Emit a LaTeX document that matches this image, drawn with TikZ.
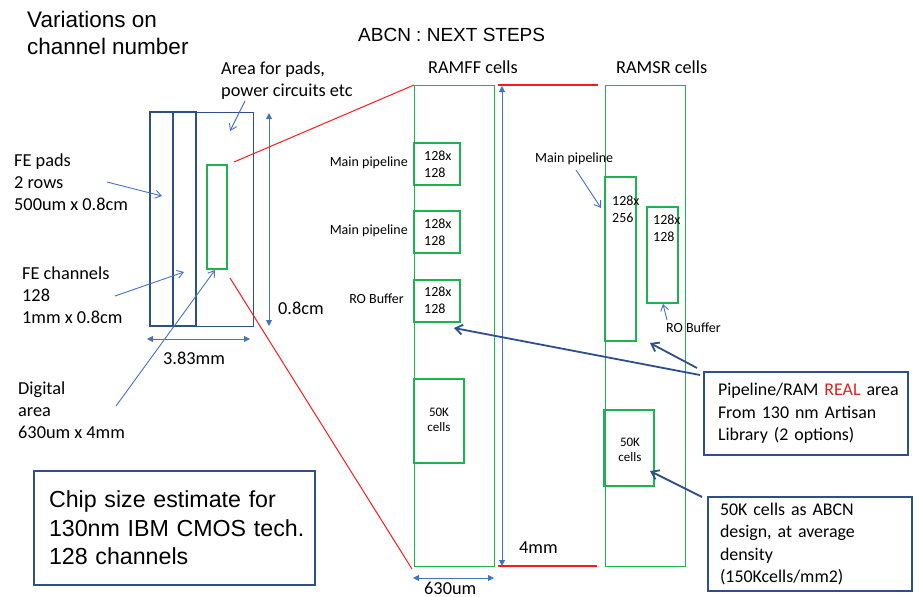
\documentclass[tikz,border=0pt]{standalone}
\usepackage{fontspec}
\setmainfont{Carlito}
\newfontfamily\arialf{Liberation Sans}
\usetikzlibrary{arrows.meta}
\definecolor{dkblue}{HTML}{2F4F8C}
\definecolor{ltblue}{HTML}{4472C4}
\definecolor{cellgreen}{HTML}{1DB34E}
\definecolor{linkred}{HTML}{FF1A1A}
\definecolor{realred}{HTML}{E0201F}
\begin{document}
\begin{tikzpicture}[x=1pt,y=-1pt,
  box/.style={inner sep=0pt,outer sep=0pt,anchor=north west},
  padrect/.style={box,draw=dkblue,line width=2pt},
  chiprect/.style={box,draw=dkblue,line width=0.9pt},
  cellthin/.style={box,draw=cellgreen,line width=0.9pt},
  cellthick/.style={box,draw=cellgreen,line width=2.3pt},
  note/.style={box,draw=dkblue,line width=1.8pt,align=left,font=\fontsize{17.9}{22.4}\selectfont},
  lbl/.style={inner sep=0pt,align=left,font=\fontsize{18.3}{22}\selectfont},
  small/.style={inner sep=0pt,align=left,font=\fontsize{14}{17}\selectfont},
  tiny/.style={inner sep=0pt,align=center,font=\fontsize{13}{15}\selectfont},
  title/.style={inner sep=0pt,align=left,font=\arialf\fontsize{22.5}{27}\selectfont},
  ptr/.style={draw=ltblue,line width=0.9pt,-{Straight Barb[length=6pt,width=8pt]}},
  dptr/.style={draw=dkblue,line width=1.8pt,-{Straight Barb[length=7pt,width=10pt]}},
  dimline/.style={draw=ltblue,line width=1pt,{Triangle[length=6pt,width=6pt]}-{Triangle[length=6pt,width=6pt]}},
  link/.style={draw=linkred,line width=1pt}
]
\useasboundingbox (0,0) rectangle (919,597);

% ---------- titles ----------
\node[title,anchor=base west] (ttl) at (27,54) {Variations on\\channel number};
\node[inner sep=0pt,font=\arialf\fontsize{19}{22}\selectfont,anchor=base west] (abcn) at (358,41) {ABCN : NEXT STEPS};

% ---------- chip floorplan ----------
\node[chiprect,minimum width=103pt,minimum height=214pt] (chip) at (150,112) {};
\node[padrect,minimum width=23pt,minimum height=214pt] (padsA) at (150,112) {};
\node[padrect,minimum width=23pt,minimum height=214pt] (padsB) at (173,112) {};
\node[cellthick,minimum width=20pt,minimum height=104pt] (dig) at (207,165) {};

\node[lbl,anchor=base west] (area) at (221,96) {Area for pads,\\power circuits etc};
\node[lbl,anchor=base west] (fepads) at (14,210) {FE pads\\2 rows\\500um x 0.8cm};
\node[lbl,anchor=base west] (fech) at (22,323) {FE channels\\128\\1mm x 0.8cm};
\node[lbl,anchor=base west] (digl) at (18,438) {Digital\\area\\630um x 4mm};

\coordinate (areaS) at (245,101);
\coordinate (areaT) at (230,131);
\coordinate (padS) at (107,182);
\coordinate (padT) at (162,196);
\coordinate (chS) at (115,296);
\coordinate (chT) at (184,272);
\coordinate (digS) at (116,406);
\coordinate (digT) at (215,270);
\draw[ptr] (areaS) -- (areaT);
\draw[ptr] (padS) -- (padT);
\draw[ptr] (chS) -- (chT);
\draw[ptr] (digS) -- (digT);

% chip dimensions
\coordinate (hTop) at (269,113);
\coordinate (hBot) at (269,326);
\draw[dimline] (hBot) -- (hTop);
\node[lbl,anchor=base west] (hlab) at (278,314) {0.8cm};
\coordinate (wL) at (147,339);
\coordinate (wR) at (250,339);
\draw[dimline] (wL) -- (wR);
\node[lbl,anchor=base west] (wlab) at (163,364) {3.83mm};

% ---------- chip size note ----------
\node[note,font=\arialf\fontsize{23.2}{28.5}\selectfont,minimum height=114pt,
      text width=251pt,inner xsep=15pt] (chipnote) at (34,471)
  {\mbox{Chip size estimate for}\\\mbox{130nm IBM CMOS tech.}\\\mbox{128 channels}};

% ---------- RAMFF column ----------
\node[lbl,anchor=base west] (fftitle) at (428,73) {RAMFF cells};
\node[cellthin,minimum width=80pt,minimum height=481pt] (ramff) at (414,85) {};
\node[cellthick,minimum width=46pt,minimum height=42pt] (ff1) at (414,143) {};
\node[cellthick,minimum width=46pt,minimum height=42pt] (ff2) at (414,211) {};
\node[cellthick,minimum width=46pt,minimum height=42pt] (ff3) at (414,280) {};
\node[cellthick,minimum width=50pt,minimum height=84pt] (ff4) at (414,379) {};
\node[small,anchor=base west] (ff1t) at (424,177) {128x\\128};
\node[small,anchor=base west] (ff2t) at (424,245) {128x\\128};
\node[small,anchor=base west] (ff3t) at (424,313) {128x\\128};
\node[tiny,anchor=base] (ff4t) at (439,431) {50K\\cells};
\node[small,anchor=base east] (mp1) at (408,166) {Main pipeline};
\node[small,anchor=base east] (mp2) at (408,234) {Main pipeline};
\node[small,anchor=base east] (rob1) at (404,303) {RO Buffer};

% ---------- RAMSR column ----------
\node[lbl,anchor=base west] (srtitle) at (616,73) {RAMSR cells};
\node[cellthin,minimum width=80pt,minimum height=481pt] (ramsr) at (605,85) {};
\node[cellthick,minimum width=31pt,minimum height=164pt] (sr1) at (605,177) {};
\node[cellthick,minimum width=31pt,minimum height=96pt] (sr2) at (647,207) {};
\node[cellthick,minimum width=50pt,minimum height=76pt] (sr3) at (604,410) {};
\node[small,anchor=base west] (sr1t) at (612,222) {128x\\256};
\node[small,anchor=base west] (sr2t) at (653,241) {128x\\128};
\node[tiny,anchor=base] (sr3t) at (630,461) {50K\\cells};
\node[small,anchor=base west] (mp3) at (535,162) {Main pipeline};
\node[small,anchor=base west] (rob2) at (666,332) {RO Buffer};
\coordinate (mp3S) at (576,170);
\coordinate (mp3T) at (601,208);
\draw[ptr] (mp3S) -- (mp3T);
\coordinate (rob2S) at (667,320);
\coordinate (rob2T) at (663,304);
\draw[ptr] (rob2S) -- (rob2T);

% ---------- 4 mm / 630 um dimensions ----------
\coordinate (vTop) at (502,86);
\coordinate (vBot) at (502,566);
\draw[dimline] (vBot) -- (vTop);
\node[lbl,anchor=base west] (vlab) at (519,553) {4mm};
\coordinate (bL) at (413,578);
\coordinate (bR) at (494,578);
\draw[dimline] (bL) -- (bR);
\node[lbl,anchor=base west] (blab) at (424,594) {630um};

% ---------- red zoom lines ----------
\coordinate (zA) at (234,162);
\coordinate (zB) at (230,278);
\draw[link] (zA) -- (ramff.north west);
\draw[link] (zB) -- ([xshift=-2pt,yshift=-3pt]ramff.south west);
\coordinate (rTopL) at (498,85);
\coordinate (rTopR) at (598,85);
\draw[link,line width=2pt] (rTopL) -- (rTopR);
\coordinate (rBotL) at (498,566);
\coordinate (rBotR) at (597,566);
\draw[link,line width=1.3pt] (rBotL) -- (rBotR);

% ---------- notes ----------
\node[note,minimum height=83pt,text width=176pt,inner xsep=14pt] (note1) at (704,372)
  {\mbox{Pipeline/RAM \textcolor{realred}{REAL} area}\\\mbox{From 130 nm Artisan}\\\mbox{Library (2 options)}};
\node[note,text width=180pt,inner xsep=12pt,inner ysep=6pt] (note2) at (708,497)
  {\mbox{50K cells as ABCN}\\\mbox{design, at average}\\density\\\mbox{(150Kcells/mm2)}};

\coordinate (n1a) at (700,375);
\coordinate (n1aT) at (454,328);
\coordinate (n1b) at (697,368);
\coordinate (n1bT) at (650,343);
\draw[dptr] (n1a) -- (n1aT);
\draw[dptr] (n1b) -- (n1bT);
\coordinate (n2a) at (702,497);
\coordinate (n2aT) at (650,471);
\draw[dptr] (n2a) -- (n2aT);
\end{tikzpicture}
\end{document}
